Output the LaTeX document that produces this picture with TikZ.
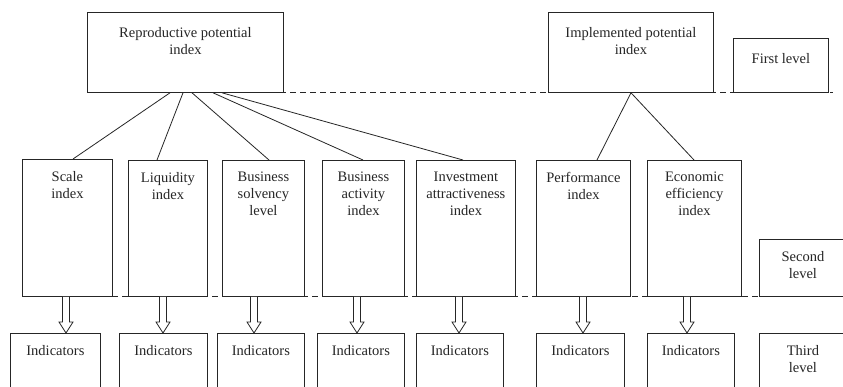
\documentclass[tikz,border=0pt]{standalone}
\usepackage{fontspec}
\setmainfont{Liberation Serif}
\usetikzlibrary{calc}
\tikzset{
  box/.style={draw=black!85, fill=white, line width=0.8pt, inner sep=0pt, rectangle},
  txt/.style={font=\fontsize{14.5}{16.8}\selectfont, align=center, inner sep=0pt, text=black!85},
  conn/.style={draw=black!85, line width=0.8pt},
  levelline/.style={draw=black!85, line width=0.8pt, dash pattern=on 6pt off 4pt},
  hollow/.style={draw=black!85, line width=0.8pt, fill=white, line join=miter}
}
\newcommand\bx[7]{%
  \node[box, minimum width={(#4-#2)*1pt}, minimum height={(#5-#3)*1pt}, anchor=north west] (#1) at (#2,#3) {};
  \node[txt, anchor=north] (#1t) at ($(#1.north)+(0,#6)$) {#7};}
\newcommand\harr[3]{%
  \draw[hollow] let \p1=($(#1.south west)+(#2,0)$), \p2=(#3.north) in
    (\x1-3.5pt,\y1) -- (\x1-3.5pt,\y2+11pt) -- (\x1-7pt,\y2+11pt) -- (\x1,\y2)
    -- (\x1+7pt,\y2+11pt) -- (\x1+3.5pt,\y2+11pt) -- (\x1+3.5pt,\y1);}
\begin{document}
\begin{tikzpicture}[x=1pt,y=-1pt]
\clip (0,0) rectangle (843,386);
\fill[white] (0,0) rectangle (843,386);
% level separators
\draw[levelline] (200,92) -- (833,92);
\draw[levelline] (22,296) -- (843,296);
% first level
\bx{r}{87}{12}{283}{92}{15}{Reproductive potential\\index}
\bx{im}{548}{12}{713}{92}{15}{Implemented potential\\index}
\bx{l1}{733}{38}{828}{92}{15}{First level}
% second level
\bx{s1}{22}{159}{112}{296}{12}{Scale\\index}
\bx{s2}{128}{160}{207}{296}{12}{Liquidity\\index}
\bx{s3}{222}{160}{304}{296}{12}{Business\\solvency\\level}
\bx{s4}{322}{160}{404}{296}{12}{Business\\activity\\index}
\bx{s5}{416}{160}{515}{296}{12}{Investment\\attractiveness\\index}
\bx{s6}{536}{160}{630}{296}{12}{Performance\\index}
\bx{s7}{647}{160}{741}{296}{12}{Economic\\efficiency\\index}
\bx{l2}{759}{239}{846}{296}{12}{Second\\level}
% third level
\bx{t1}{10}{333}{100}{400}{12}{Indicators}
\bx{t2}{119}{333}{207}{400}{12}{Indicators}
\bx{t3}{217}{333}{304}{400}{12}{Indicators}
\bx{t4}{317}{333}{404}{400}{12}{Indicators}
\bx{t5}{416}{333}{503}{400}{12}{Indicators}
\bx{t6}{536}{333}{624}{400}{12}{Indicators}
\bx{t7}{647}{333}{734}{400}{12}{Indicators}
\bx{l3}{759}{333}{846}{400}{12}{Third\\level}
% connectors
\draw[conn] ($(r.south west)+(83,0)$) -- ($(s1.north west)+(51,0)$);
\draw[conn] ($(r.south west)+(96,0)$) -- ($(s2.north west)+(29,0)$);
\draw[conn] ($(r.south west)+(105,0)$) -- ($(s3.north west)+(47,0)$);
\draw[conn] ($(r.south west)+(126,0)$) -- ($(s4.north west)+(41,0)$);
\draw[conn] ($(r.south west)+(135,0)$) -- ($(s5.north west)+(47,0)$);
\draw[conn] ($(im.south west)+(83,0)$) -- ($(s6.north west)+(61,0)$);
\draw[conn] ($(im.south west)+(83,0)$) -- ($(s7.north west)+(47,0)$);
% hollow arrows
\harr{s1}{44}{t1}
\harr{s2}{35}{t2}
\harr{s3}{32}{t3}
\harr{s4}{35}{t4}
\harr{s5}{43}{t5}
\harr{s6}{47}{t6}
\harr{s7}{40}{t7}
\end{tikzpicture}
\end{document}
